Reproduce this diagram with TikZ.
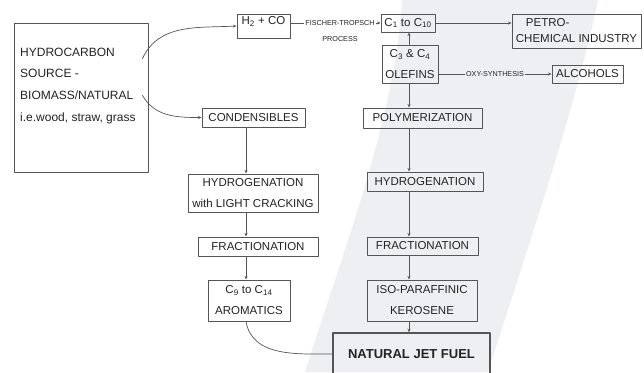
\documentclass[tikz,border=0pt]{standalone}
\usepackage{fontspec}
\setmainfont{Liberation Sans}
\usetikzlibrary{arrows.meta,positioning}
\definecolor{bandgray}{RGB}{238,239,242}
\definecolor{boxline}{RGB}{85,85,85}
\definecolor{inkgray}{RGB}{35,35,35}

\begin{document}
\begin{tikzpicture}[x=1pt, y=-1pt, line cap=round, line join=round,
  box/.style={draw=boxline, line width=1pt, inner sep=2pt, text=inkgray,
    font=\fontsize{11.5}{21}\selectfont, align=center},
  tag/.style={inner sep=1pt, text=inkgray, font=\fontsize{7.2}{8}\selectfont},
  arr/.style={draw=boxline, line width=0.7pt, -{Stealth[length=3.5pt,width=3pt]}},
  link/.style={draw=boxline, line width=0.7pt}]
\useasboundingbox (0,0) rectangle (644,372);
\clip (0,0) rectangle (644,372);
\fill[white] (0,0) rectangle (644,372);
% light band behind the right column
\fill[bandgray] (402,0) .. controls (395,120) and (340,260) .. (305,372) -- (488,372)
  .. controls (530,240) and (575,110) .. (598,0) -- cycle;
\coordinate (lcol) at (246,0);
\coordinate (rcol) at (409,0);
% source
\node[box, minimum width=134pt, minimum height=149pt] (src) at (81,97.5) {};
\node[text=inkgray, font=\fontsize{12}{21.7}\selectfont, align=left, inner sep=0pt,
  anchor=north west] (srctxt) at (20,47.5) {HYDROCARBON\\SOURCE -\\BIOMASS/NATURAL\\i.e.wood, straw, grass};
% top row
\node[box, minimum width=53pt, minimum height=24pt, text depth=11pt] (syngas) at (263.5,26) {H\textsubscript{2} + CO};
\node[box, minimum width=54pt, minimum height=18pt] (c1) at (408,23) {C\textsubscript{1} to C\textsubscript{10}};
\node[box, minimum width=129pt, minimum height=34pt, align=left] (petro) at (576.5,31) {\hspace{10pt}PETRO-\\[-5pt]CHEMICAL INDUSTRY};
\node[box, minimum width=56pt, minimum height=38pt] (olef) at (410,64) {C\textsubscript{3} \& C\textsubscript{4}\\OLEFINS};
\node[box, minimum width=71pt, minimum height=18pt] (alco) at (587.5,74) {ALCOHOLS};
% right column
\node[box, minimum width=119pt, minimum height=20pt] (poly) at (422.5,118) {POLYMERIZATION};
\node[box, minimum width=116pt, minimum height=19pt] (hydr) at (425,181.5) {HYDROGENATION};
\node[box, minimum width=111pt, minimum height=18pt] (fracr) at (422.5,246) {FRACTIONATION};
\node[box, minimum width=110pt, minimum height=41pt] (kero) at (422,300.5) {ISO-PARAFFINIC\\KEROSENE};
\node[box, line width=1.5pt, minimum width=157pt, minimum height=42pt,
  font=\fontsize{13}{15}\selectfont\bfseries] (jet) at (411.5,354) {NATURAL JET FUEL};
% left column
\node[box, minimum width=103pt, minimum height=19pt] (cond) at (253.5,117.5) {CONDENSIBLES};
\node[box, minimum width=130pt, minimum height=38pt] (hydl) at (253,193) {HYDROGENATION\\with LIGHT CRACKING};
\node[box, minimum width=120pt, minimum height=19pt] (fracl) at (258,246.5) {FRACTIONATION};
\node[box, minimum width=82pt, minimum height=41pt] (arom) at (249,300.5) {C\textsubscript{9} to C\textsubscript{14}\\AROMATICS};
% connectors
\draw[arr] ([xshift=-6pt,yshift=39pt]src.east) to[out=65,in=183] (syngas.west);
\draw[arr] ([xshift=-6pt,yshift=2pt]src.east) to[out=-60,in=180] (cond.west);
\draw[arr] (syngas.east |- c1.west) -- node[tag, fill=white, pos=0.55] (ftlbl) {FISCHER-TROPSCH} (c1.west);
\node[tag, below=8pt of ftlbl] (ftsub) {PROCESS};
\draw[arr] (c1.east) -- (c1.east -| petro.west);
\draw[arr] (olef.north -| rcol) -- (c1.south -| rcol);
\draw[arr] (olef.east |- alco.west) -- node[tag, fill=bandgray] (oxylbl) {OXY-SYNTHESIS} (alco.west);
\foreach \a/\b in {olef/poly, poly/hydr, hydr/fracr, fracr/kero, kero/jet}
  \draw[arr] (\a.south -| rcol) -- (\b.north -| rcol);
\foreach \a/\b in {cond/hydl, hydl/fracl, fracl/arom}
  \draw[arr] (\a.south -| lcol) -- (\b.north -| lcol);
\draw[link] (arom.south -| lcol) to[out=-80,in=180] (jet.west);
\end{tikzpicture}
\end{document}
